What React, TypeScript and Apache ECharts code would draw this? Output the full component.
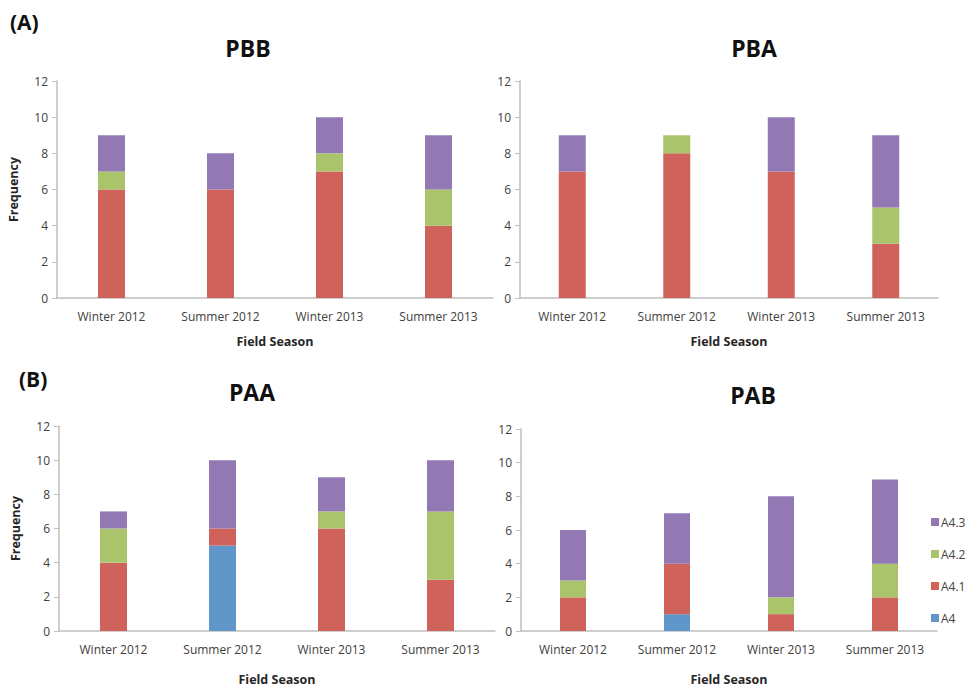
import React, { useEffect, useRef } from "react";
import * as echarts from "echarts";

const categories = ["Winter 2012", "Summer 2012", "Winter 2013", "Summer 2013"];
const seriesNames = ["A4", "A4.1", "A4.2", "A4.3"];
const colors = ["#6196cb", "#cf635b", "#a9c46b", "#9279b3"];

// PBB
const pbbA4 = [0, 0, 0, 0];
const pbbA41 = [6, 6, 7, 4];
const pbbA42 = [1, 0, 1, 2];
const pbbA43 = [2, 2, 2, 3];
// PBA
const pbaA4 = [0, 0, 0, 0];
const pbaA41 = [7, 8, 7, 3];
const pbaA42 = [0, 1, 0, 2];
const pbaA43 = [2, 0, 3, 4];
// PAA
const paaA4 = [0, 5, 0, 0];
const paaA41 = [4, 1, 6, 3];
const paaA42 = [2, 0, 1, 4];
const paaA43 = [1, 4, 2, 3];
// PAB
const pabA4 = [0, 1, 0, 0];
const pabA41 = [2, 3, 1, 2];
const pabA42 = [1, 0, 1, 2];
const pabA43 = [3, 3, 6, 5];

const yTicks = { min: 0, max: 12, interval: 2 };

const FONT = "Open Sans";

const panels = [
  { title: "PBB", data: [pbbA4, pbbA41, pbbA42, pbbA43], grid: { left: 57, top: 81, width: 436, height: 217 }, yName: true, barWidth: 27 },
  { title: "PBA", data: [pbaA4, pbaA41, pbaA42, pbaA43], grid: { left: 520, top: 81, width: 418, height: 217 }, yName: false, barWidth: 27 },
  { title: "PAA", data: [paaA4, paaA41, paaA42, paaA43], grid: { left: 59, top: 426, width: 436, height: 213 }, yName: true, barWidth: 27 },
  { title: "PAB", data: [pabA4, pabA41, pabA42, pabA43], grid: { left: 521, top: 429, width: 416, height: 211 }, yName: false, barWidth: 26 },
];

export default function App() {
  const ref = useRef<HTMLDivElement>(null);
  useEffect(() => {
    if (!ref.current) return;
    const chart = echarts.init(ref.current, null, { renderer: "svg" });
    const axisColor = "#bfbfbf";
    const labelColor = "#404040";
    const option: any = {
      animation: false,
      backgroundColor: "#ffffff",
      textStyle: { fontFamily: FONT },
      grid: panels.map((p) => ({ ...p.grid, containLabel: false })),
      xAxis: panels.map((p, i) => ({
        type: "category",
        gridIndex: i,
        data: categories,
        axisLine: { show: true, lineStyle: { color: axisColor, width: 1.5 } },
        axisTick: { show: false },
        axisLabel: { color: labelColor, fontSize: 12, margin: 12, fontFamily: FONT, interval: 0 },
        name: "Field Season",
        nameLocation: "middle",
        nameGap: i < 2 ? 37 : 42,
        nameTextStyle: { color: "#262626", fontWeight: "bold", fontSize: 12.5, fontFamily: FONT },
      })),
      yAxis: panels.map((p, i) => ({
        type: "value",
        gridIndex: i,
        ...yTicks,
        axisLine: { show: true, lineStyle: { color: axisColor, width: 1.5 } },
        axisTick: { show: true, length: 5, lineStyle: { color: axisColor } },
        splitLine: { show: false },
        axisLabel: { color: labelColor, fontSize: 12, margin: 9, fontFamily: FONT },
        name: p.yName ? "Frequency" : "",
        nameLocation: "middle",
        nameGap: 37,
        nameTextStyle: { color: "#262626", fontWeight: "bold", fontSize: 12.5, fontFamily: FONT },
      })),
      legend: {
        orient: "vertical",
        left: 926,
        top: 511,
        itemWidth: 8,
        itemHeight: 8,
        itemGap: 20,
        icon: "rect",
        data: ["A4.3", "A4.2", "A4.1", "A4"],
        textStyle: { color: labelColor, fontSize: 12, fontFamily: FONT, padding: [0, 0, 0, -3] },
      },
      series: panels.flatMap((p, i) =>
        seriesNames.map((name, k) => ({
          type: "bar",
          name,
          xAxisIndex: i,
          yAxisIndex: i,
          stack: "s" + i,
          barWidth: p.barWidth,
          data: p.data[k],
          itemStyle: { color: colors[k] },
        }))
      ),
      graphic: [
        { type: "text", left: 10, top: 11, style: { text: "(A)", font: `bold 21px "${FONT}"`, fill: "#111" } },
        { type: "text", left: 19, top: 368, style: { text: "(B)", font: `bold 21px "${FONT}"`, fill: "#111" } },
        ...panels.map((p, i) => {
          const cx = [248, 754, 252, 753][i];
          const cy = [48, 48, 392, 395][i];
          return {
            type: "text",
            x: cx,
            y: cy,
            style: {
              text: p.title,
              font: `bold 23px "${FONT}"`,
              fill: "#111",
              align: "center",
              verticalAlign: "middle",
            },
          };
        }),
      ],
    };
    chart.setOption(option);
    return () => chart.dispose();
  }, []);
  return (
    <div
      ref={ref}
      style={{ position: "fixed", left: 0, top: 0, width: 966, height: 687, background: "#fff" }}
    />
  );
}
